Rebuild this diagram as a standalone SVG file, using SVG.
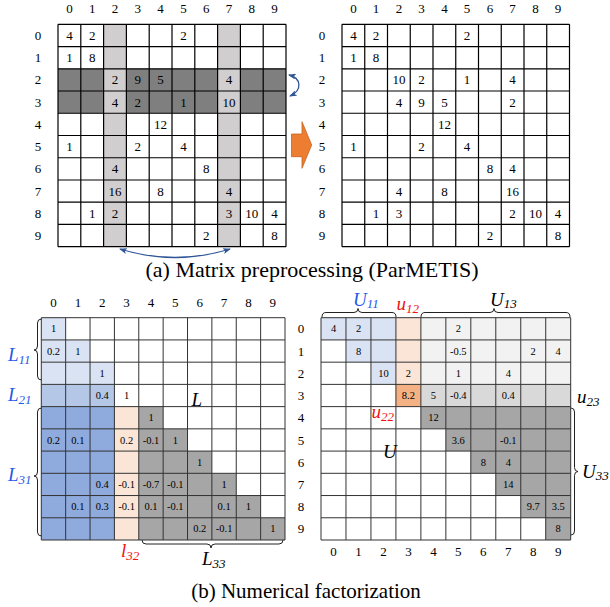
<svg xmlns="http://www.w3.org/2000/svg" width="610" height="607" viewBox="0 0 610 607" font-family="'Liberation Serif','Times New Roman',serif">
<style>
text{font-family:"Liberation Serif","Times New Roman",serif;fill:#000}
.v{font-size:13px;text-anchor:middle;dominant-baseline:central}
.s{font-size:10.5px;text-anchor:middle;dominant-baseline:central}
.lab{font-size:13px;text-anchor:middle;dominant-baseline:central}
.grid{fill:none;stroke:#000;stroke-width:1.2}
.gridb{fill:none;stroke:#333;stroke-width:1}
.brace{fill:none;stroke:#222;stroke-width:1}
.it{font-style:italic;font-size:19px}
.sub{font-size:13px}
.blue{fill:#1f5ae8}
.red{fill:#f01010}
.cap{font-size:21px;text-anchor:middle}
.conn{fill:none;stroke:#2f5597;stroke-width:1.3}
</style>
<defs>
<marker id="ah" markerWidth="8" markerHeight="6" refX="7" refY="3" orient="auto-start-reverse" markerUnits="userSpaceOnUse">
<path d="M0,0 L8,3 L0,6 L2,3 z" fill="#2f5597"/>
</marker>
</defs>

<!-- Top-left matrix -->
<g id="matrix-original">
<rect x="58" y="68.78" width="228" height="44.48" fill="#7f7f7f"/>
<rect x="103.6" y="24.3" width="22.8" height="222.4" fill="#d0cece"/>
<rect x="217.6" y="24.3" width="22.8" height="222.4" fill="#d0cece"/>
<path class="grid" d="M58 24.3V246.7M80.8 24.3V246.7M103.6 24.3V246.7M126.4 24.3V246.7M149.2 24.3V246.7M172 24.3V246.7M194.8 24.3V246.7M217.6 24.3V246.7M240.4 24.3V246.7M263.2 24.3V246.7M286 24.3V246.7M58 24.3H286M58 46.54H286M58 68.78H286M58 91.02H286M58 113.26H286M58 135.5H286M58 157.74H286M58 179.98H286M58 202.22H286M58 224.46H286M58 246.7H286"/>
<g class="lab">
<text x="69.4" y="8.5">0</text><text x="92.2" y="8.5">1</text><text x="115" y="8.5">2</text><text x="137.8" y="8.5">3</text><text x="160.6" y="8.5">4</text><text x="183.4" y="8.5">5</text><text x="206.2" y="8.5">6</text><text x="229" y="8.5">7</text><text x="251.8" y="8.5">8</text><text x="274.6" y="8.5">9</text>
<text x="38" y="35.4">0</text><text x="38" y="57.7">1</text><text x="38" y="79.9">2</text><text x="38" y="102.1">3</text><text x="38" y="124.4">4</text><text x="38" y="146.6">5</text><text x="38" y="168.9">6</text><text x="38" y="191.1">7</text><text x="38" y="213.3">8</text><text x="38" y="235.6">9</text>
</g>
<g class="v">
<text x="69.4" y="35.4">4</text><text x="92.2" y="35.4">2</text><text x="183.4" y="35.4">2</text>
<text x="69.4" y="57.7">1</text><text x="92.2" y="57.7">8</text>
<text x="115" y="79.9">2</text><text x="137.8" y="79.9">9</text><text x="160.6" y="79.9">5</text><text x="229" y="79.9">4</text>
<text x="115" y="102.1">4</text><text x="137.8" y="102.1">2</text><text x="183.4" y="102.1">1</text><text x="229" y="102.1">10</text>
<text x="160.6" y="124.4">12</text>
<text x="69.4" y="146.6">1</text><text x="137.8" y="146.6">2</text><text x="183.4" y="146.6">4</text>
<text x="115" y="168.9">4</text><text x="206.2" y="168.9">8</text>
<text x="115" y="191.1">16</text><text x="160.6" y="191.1">8</text><text x="229" y="191.1">4</text>
<text x="92.2" y="213.3">1</text><text x="115" y="213.3">2</text><text x="229" y="213.3">3</text><text x="251.8" y="213.3">10</text><text x="274.6" y="213.3">4</text>
<text x="206.2" y="235.6">2</text><text x="274.6" y="235.6">8</text>
</g>
</g>

<!-- Top-right matrix -->
<g id="matrix-reordered">
<path class="grid" d="M342 24.3V246.7M364.75 24.3V246.7M387.5 24.3V246.7M410.25 24.3V246.7M433 24.3V246.7M455.75 24.3V246.7M478.5 24.3V246.7M501.25 24.3V246.7M524 24.3V246.7M546.75 24.3V246.7M569.5 24.3V246.7M342 24.3H569.5M342 46.54H569.5M342 68.78H569.5M342 91.02H569.5M342 113.26H569.5M342 135.5H569.5M342 157.74H569.5M342 179.98H569.5M342 202.22H569.5M342 224.46H569.5M342 246.7H569.5"/>
<g class="lab">
<text x="353.4" y="8.5">0</text><text x="376.1" y="8.5">1</text><text x="398.9" y="8.5">2</text><text x="421.6" y="8.5">3</text><text x="444.4" y="8.5">4</text><text x="467.1" y="8.5">5</text><text x="489.9" y="8.5">6</text><text x="512.6" y="8.5">7</text><text x="535.4" y="8.5">8</text><text x="558.1" y="8.5">9</text>
<text x="322" y="35.4">0</text><text x="322" y="57.7">1</text><text x="322" y="79.9">2</text><text x="322" y="102.1">3</text><text x="322" y="124.4">4</text><text x="322" y="146.6">5</text><text x="322" y="168.9">6</text><text x="322" y="191.1">7</text><text x="322" y="213.3">8</text><text x="322" y="235.6">9</text>
</g>
<g class="v">
<text x="353.4" y="35.4">4</text><text x="376.1" y="35.4">2</text><text x="467.1" y="35.4">2</text>
<text x="353.4" y="57.7">1</text><text x="376.1" y="57.7">8</text>
<text x="398.9" y="79.9">10</text><text x="421.6" y="79.9">2</text><text x="467.1" y="79.9">1</text><text x="512.6" y="79.9">4</text>
<text x="398.9" y="102.1">4</text><text x="421.6" y="102.1">9</text><text x="444.4" y="102.1">5</text><text x="512.6" y="102.1">2</text>
<text x="444.4" y="124.4">12</text>
<text x="353.4" y="146.6">1</text><text x="421.6" y="146.6">2</text><text x="467.1" y="146.6">4</text>
<text x="489.9" y="168.9">8</text><text x="512.6" y="168.9">4</text>
<text x="398.9" y="191.1">4</text><text x="444.4" y="191.1">8</text><text x="512.6" y="191.1">16</text>
<text x="376.1" y="213.3">1</text><text x="398.9" y="213.3">3</text><text x="512.6" y="213.3">2</text><text x="535.4" y="213.3">10</text><text x="558.1" y="213.3">4</text>
<text x="489.9" y="235.6">2</text><text x="558.1" y="235.6">8</text>
</g>
</g>

<text class="cap" x="312" y="277" style="font-size:22px">(a) Matrix preprocessing (ParMETIS)</text>

<!-- Bottom-left L matrix -->
<g id="matrix-L">
<rect x="41.3" y="317.7" width="24.37" height="22.23" fill="#dae3f3"/>
<rect x="41.3" y="339.93" width="48.74" height="22.23" fill="#dae3f3"/>
<rect x="41.3" y="362.16" width="73.11" height="22.23" fill="#dae3f3"/>
<rect x="41.3" y="384.39" width="73.11" height="22.23" fill="#b4c7e7"/>
<rect x="41.3" y="406.62" width="73.11" height="133.38" fill="#8faadc"/>
<rect x="114.41" y="406.62" width="24.37" height="133.38" fill="#fbe5d6"/>
<polygon fill="#a6a6a6" points="138.78,406.62 163.15,406.62 163.15,428.85 187.52,428.85 187.52,451.08 211.89,451.08 211.89,473.31 236.26,473.31 236.26,495.54 260.63,495.54 260.63,517.77 285,517.77 285,540 138.78,540"/>
<path class="gridb" d="M41.3 317.7V540M65.67 317.7V540M90.04 317.7V540M114.41 317.7V540M138.78 317.7V540M163.15 317.7V540M187.52 317.7V540M211.89 317.7V540M236.26 317.7V540M260.63 317.7V540M285 317.7V540M41.3 317.7H285M41.3 339.93H285M41.3 362.16H285M41.3 384.39H285M41.3 406.62H285M41.3 428.85H285M41.3 451.08H285M41.3 473.31H285M41.3 495.54H285M41.3 517.77H285M41.3 540H285"/>
<g class="lab">
<text x="53.5" y="302">0</text><text x="77.9" y="302">1</text><text x="102.2" y="302">2</text><text x="126.6" y="302">3</text><text x="151" y="302">4</text><text x="175.3" y="302">5</text><text x="199.7" y="302">6</text><text x="224.1" y="302">7</text><text x="248.4" y="302">8</text><text x="272.8" y="302">9</text>
</g>
<g class="s">
<text x="53.5" y="328.8">1</text>
<text x="53.5" y="351">0.2</text><text x="77.9" y="351">1</text>
<text x="102.2" y="373.3">1</text>
<text x="102.2" y="395.5">0.4</text><text x="126.6" y="395.5">1</text>
<text x="151" y="417.7">1</text>
<text x="53.5" y="440">0.2</text><text x="77.9" y="440">0.1</text><text x="126.6" y="440">0.2</text><text x="151" y="440">-0.1</text><text x="175.3" y="440">1</text>
<text x="199.7" y="462.2">1</text>
<text x="102.2" y="484.4">0.4</text><text x="126.6" y="484.4">-0.1</text><text x="151" y="484.4">-0.7</text><text x="175.3" y="484.4">-0.1</text><text x="224.1" y="484.4">1</text>
<text x="77.9" y="506.7">0.1</text><text x="102.2" y="506.7">0.3</text><text x="126.6" y="506.7">-0.1</text><text x="151" y="506.7">0.1</text><text x="175.3" y="506.7">-0.1</text><text x="224.1" y="506.7">0.1</text><text x="248.4" y="506.7">1</text>
<text x="199.7" y="528.9">0.2</text><text x="224.1" y="528.9">-0.1</text><text x="272.8" y="528.9">1</text>
</g>
<text class="it" x="191.5" y="406">L</text>
</g>

<!-- shared row labels -->
<g id="row-labels" class="lab">
<text x="301" y="328.8">0</text><text x="301" y="351">1</text><text x="301" y="373.3">2</text><text x="301" y="395.5">3</text><text x="301" y="417.7">4</text><text x="301" y="440">5</text><text x="301" y="462.2">6</text><text x="301" y="484.4">7</text><text x="301" y="506.7">8</text><text x="301" y="528.9">9</text>
</g>

<!-- Bottom-right U matrix -->
<g id="matrix-U">
<rect x="321" y="317.7" width="74.91" height="22.23" fill="#dae3f3"/>
<rect x="345.97" y="339.93" width="49.94" height="22.23" fill="#dae3f3"/>
<rect x="370.94" y="362.16" width="24.97" height="22.23" fill="#dae3f3"/>
<rect x="395.91" y="317.7" width="24.97" height="66.69" fill="#fbe5d6"/>
<rect x="420.88" y="317.7" width="149.82" height="66.69" fill="#f2f2f2"/>
<rect x="395.91" y="384.39" width="24.97" height="22.23" fill="#f4b183"/>
<rect x="420.88" y="384.39" width="149.82" height="22.23" fill="#d9d9d9"/>
<polygon fill="#a6a6a6" points="420.88,406.62 570.7,406.62 570.7,540 545.73,540 545.73,517.77 520.76,517.77 520.76,495.54 495.79,495.54 495.79,473.31 470.82,473.31 470.82,451.08 445.85,451.08 445.85,428.85 420.88,428.85"/>
<path class="gridb" d="M321 317.7V540M345.97 317.7V540M370.94 317.7V540M395.91 317.7V540M420.88 317.7V540M445.85 317.7V540M470.82 317.7V540M495.79 317.7V540M520.76 317.7V540M545.73 317.7V540M570.7 317.7V540M321 317.7H570.7M321 339.93H570.7M321 362.16H570.7M321 384.39H570.7M321 406.62H570.7M321 428.85H570.7M321 451.08H570.7M321 473.31H570.7M321 495.54H570.7M321 517.77H570.7M321 540H570.7"/>
<g class="lab">
<text x="333.5" y="551">0</text><text x="358.5" y="551">1</text><text x="383.4" y="551">2</text><text x="408.4" y="551">3</text><text x="433.4" y="551">4</text><text x="458.3" y="551">5</text><text x="483.3" y="551">6</text><text x="508.3" y="551">7</text><text x="533.2" y="551">8</text><text x="558.2" y="551">9</text>
</g>
<g class="s">
<text x="333.5" y="328.8">4</text><text x="358.5" y="328.8">2</text><text x="458.3" y="328.8">2</text>
<text x="358.5" y="351">8</text><text x="458.3" y="351">-0.5</text><text x="533.2" y="351">2</text><text x="558.2" y="351">4</text>
<text x="383.4" y="373.3">10</text><text x="408.4" y="373.3">2</text><text x="458.3" y="373.3">1</text><text x="508.3" y="373.3">4</text>
<text x="408.4" y="395.5">8.2</text><text x="433.4" y="395.5">5</text><text x="458.3" y="395.5">-0.4</text><text x="508.3" y="395.5">0.4</text>
<text x="433.4" y="417.7">12</text>
<text x="458.3" y="440">3.6</text><text x="508.3" y="440">-0.1</text>
<text x="483.3" y="462.2">8</text><text x="508.3" y="462.2">4</text>
<text x="508.3" y="484.4">14</text>
<text x="533.2" y="506.7">9.7</text><text x="558.2" y="506.7">3.5</text>
<text x="558.2" y="528.9">8</text>
</g>
<text class="it" x="383" y="458">U</text>
</g>

<!-- braces and block labels -->
<g id="braces">
<path class="brace" d="M41.5 319Q37.5 319 37.5 323L37.5 346Q37.5 350 34 350Q37.5 350 37.5 354L37.5 376Q37.5 380 41.5 380"/>
<path class="brace" d="M41.5 408Q37.5 408 37.5 412L37.5 472Q37.5 476 34 476Q37.5 476 37.5 480L37.5 532Q37.5 536 41.5 536"/>
<path class="brace" d="M142 540Q142 544 146 544L207 544Q211 544 211 548Q211 544 215 544L279 544Q283 544 283 540"/>
<path class="brace" d="M322 317Q322 312.5 326 312.5L354 312.5Q358 312.5 358 308.5Q358 312.5 362 312.5L392 312.5Q396 312.5 396 317"/>
<path class="brace" d="M421 317Q421 312.5 425 312.5L490 312.5Q494 312.5 494 308.5Q494 312.5 498 312.5L566 312.5Q570 312.5 570 317"/>
<path class="brace" d="M571 408Q574.5 408 574.5 412L574.5 467.5Q574.5 471.5 578 471.5Q574.5 471.5 574.5 475.5L574.5 531Q574.5 535 571 535"/>
</g>
<g id="block-labels">
<text class="it blue" x="8" y="361">L<tspan class="sub" dy="3">11</tspan></text>
<text class="it blue" x="8" y="401">L<tspan class="sub" dy="3">21</tspan></text>
<text class="it blue" x="8" y="481">L<tspan class="sub" dy="3">31</tspan></text>
<text class="it red" x="121" y="557">l<tspan class="sub" dy="3">32</tspan></text>
<text class="it" x="202" y="565">L<tspan class="sub" dy="3">33</tspan></text>
<text class="it blue" x="353" y="306">U<tspan class="sub" dy="2">11</tspan></text>
<text class="it red" x="396.5" y="310">u<tspan class="sub" dy="3">12</tspan></text>
<text class="it" x="490" y="306">U<tspan class="sub" dy="2">13</tspan></text>
<text class="it red" x="371.5" y="418">u<tspan class="sub" dy="3">22</tspan></text>
<text class="it" x="577" y="403">u<tspan class="sub" dy="3">23</tspan></text>
<text class="it" x="582" y="478">U<tspan class="sub" dy="2">33</tspan></text>
</g>

<text class="cap" x="306" y="598">(b) Numerical factorization</text>

<!-- connectors -->
<g id="connectors">
<path class="conn" d="M289 75C301 78 303 90 290 96" marker-start="url(#ah)" marker-end="url(#ah)"/>
<path class="conn" d="M120 249Q175 266 230 249" marker-start="url(#ah)" marker-end="url(#ah)"/>
<polygon points="291.5,134 302,134 302,121.7 311.7,145 302,168.3 302,156.7 291.5,156.7" fill="#ed7d31" stroke="#c5631f" stroke-width="0.8"/>
</g>
</svg>
